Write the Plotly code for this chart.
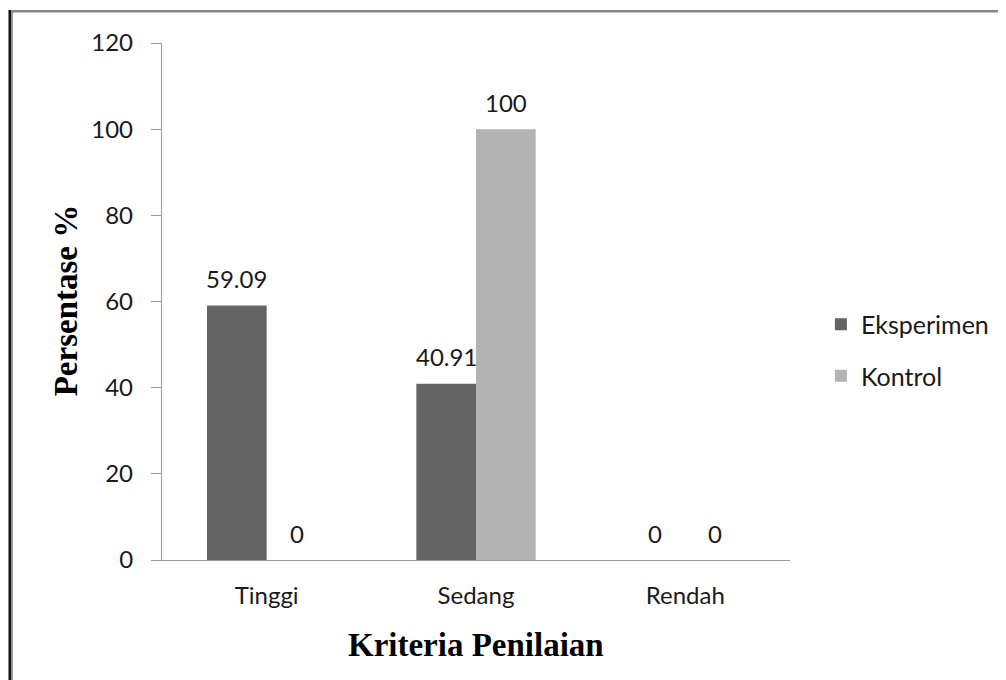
import plotly.graph_objects as go

categories = ["Tinggi", "Sedang", "Rendah"]
eksperimen = [59.09, 40.91, 0]
kontrol = [0, 100, 0]
series_names = ["Eksperimen", "Kontrol"]
y_ticks = [0, 20, 40, 60, 80, 100, 120]

OFF = 8  # page body margin
W, H = 1006 - OFF, 680 - OFF
L, R, T, B = 162 - OFF, 214, 43 - OFF, 120
pw, ph = W - L - R, H - T - B

def px_x(p):  # page pixel -> paper
    return (p - OFF - L) / pw

def px_y(p):
    return (H - B - (p - OFF)) / ph

colors = ["#646464", "#b3b3b3"]
tick_font = dict(family="Lato", size=24, color="#1a1a1a")

fig = go.Figure()
for name, vals, col in zip(series_names, [eksperimen, kontrol], colors):
    fig.add_trace(go.Bar(
        x=categories, y=vals, name=name, marker=dict(color=col, line=dict(width=0)),
        legendgroup=name,
    ))

# data labels
offsets = [-30, 30]
for vals, dx in zip([eksperimen, kontrol], offsets):
    for c, v in zip(categories, vals):
        fig.add_annotation(x=c, y=v, xref="x", yref="y", text=f"{v:g}",
                           showarrow=False, xshift=dx, yshift=27,
                           xanchor="center", yanchor="middle", font=tick_font)

# axis titles
title_font = dict(family="Liberation Serif", size=33, color="black")
fig.add_annotation(x=0.5, y=px_y(645), xref="paper", yref="paper",
                   text="<b>Kriteria Penilaian</b>", showarrow=False,
                   xanchor="center", yanchor="middle", font=title_font)
fig.add_annotation(x=px_x(66), y=px_y(300), xref="paper", yref="paper",
                   text="<b>Persentase %</b>", showarrow=False, textangle=-90,
                   xanchor="center", yanchor="middle", font=title_font)

# frame border (left and top)
fig.add_shape(type="line", xref="paper", yref="paper",
              x0=px_x(9.5), x1=px_x(9.5), y0=px_y(10), y1=px_y(690),
              line=dict(color="#111111", width=3))
fig.add_shape(type="line", xref="paper", yref="paper",
              x0=px_x(11.8), x1=px_x(11.8), y0=px_y(12), y1=px_y(690),
              line=dict(color="#9a9a9a", width=1.5))
fig.add_shape(type="line", xref="paper", yref="paper",
              x0=px_x(11), x1=px_x(1010), y0=px_y(11.2), y1=px_y(11.2),
              line=dict(color="#888888", width=2.5))

fig.update_layout(
    width=W, height=H,
    margin=dict(l=L, r=R, t=T, b=B, pad=0),
    paper_bgcolor="white", plot_bgcolor="white",
    barmode="group", bargap=0.43, bargroupgap=0,
    showlegend=True,
    legend=dict(x=px_x(823), y=px_y(350), xanchor="left", yanchor="middle",
                font=dict(family="Lato", size=25, color="#1a1a1a"),
                traceorder="grouped", tracegroupgap=16, itemwidth=30,
                bgcolor="rgba(0,0,0,0)"),
    xaxis=dict(showline=True, linecolor="#9a9a9a", linewidth=1.3,
               ticks="", showgrid=False, tickfont=tick_font,
               ticklabelstandoff=14),
    yaxis=dict(range=[0, 120], tickvals=y_ticks, showline=True,
               linecolor="#9a9a9a", linewidth=1.3, ticks="outside",
               ticklen=10, tickcolor="#9a9a9a", tickwidth=1.3,
               showgrid=False, zeroline=False, tickfont=tick_font,
               ticklabelstandoff=13),
)

fig.write_html("out.html")
